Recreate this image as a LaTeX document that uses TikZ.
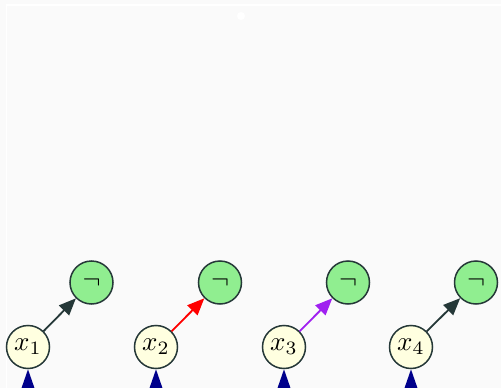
\documentclass[tikz,border=0pt]{standalone}
\usepackage{graphicx}
\usetikzlibrary{arrows.meta}
\definecolor{bgc}{HTML}{FAFAFA}
\definecolor{edgec}{HTML}{253838}
\definecolor{negfill}{HTML}{90EE90}
\definecolor{varfill}{HTML}{FFFFE0}
\definecolor{purp}{HTML}{A020F0}
\definecolor{navyc}{HTML}{00008B}
\newcommand{\bigtxt}[1]{\scalebox{2.7}{#1}}
\begin{document}
\begin{tikzpicture}[x=1pt,y=-1pt,
  vnode/.style={circle,draw=edgec,line width=1.5pt,fill=varfill,minimum size=43pt,inner sep=0pt},
  nnode/.style={circle,draw=edgec,line width=1.5pt,fill=negfill,minimum size=43pt,inner sep=0pt},
  link/.style={line width=1.8pt,-{Triangle[length=17pt,width=14pt]}},
  inlink/.style={line width=1.8pt,navyc,-{Triangle[length=21pt,width=14pt]}}]
\useasboundingbox (0,0) rectangle (501,388);
\fill[bgc] (0,0) rectangle (501,388);
\draw[white,line width=1.5pt] (6.5,400) -- (6.5,5) -- (510,5);
\fill[white] (241,16) circle (4);
\node[vnode] (x1) at (28,347) {\bigtxt{$x_1$}};
\node[vnode] (x2) at (156,347) {\bigtxt{$x_2$}};
\node[vnode] (x3) at (284,347) {\bigtxt{$x_3$}};
\node[vnode] (x4) at (411,347) {\bigtxt{$x_4$}};
\node[nnode] (n1) at (91.5,282.5) {\bigtxt{$\neg$}};
\node[nnode] (n2) at (220,282.5) {\bigtxt{$\neg$}};
\node[nnode] (n3) at (348,282.5) {\bigtxt{$\neg$}};
\node[nnode] (n4) at (476,282.5) {\bigtxt{$\neg$}};
\coordinate (s1) at (28,430);
\coordinate (s2) at (156,430);
\coordinate (s3) at (284,430);
\coordinate (s4) at (411,430);
\draw[link,edgec] (x1) -- (n1);
\draw[link,red] (x2) -- (n2);
\draw[link,purp] (x3) -- (n3);
\draw[link,edgec] (x4) -- (n4);
\foreach \i in {1,2,3,4} \draw[inlink] (s\i) -- (x\i);
\end{tikzpicture}
\end{document}
